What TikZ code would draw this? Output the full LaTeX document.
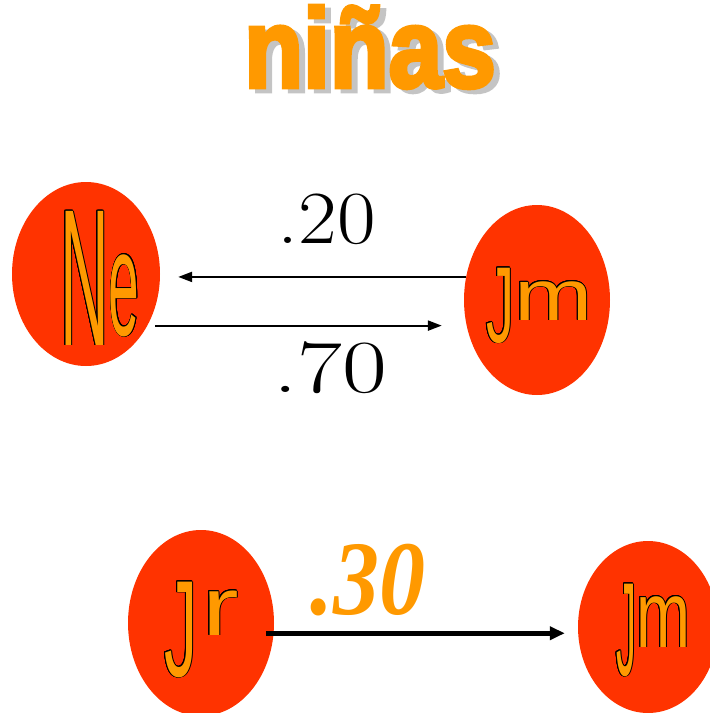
\documentclass[tikz,border=0pt]{standalone}
\usepackage{fontspec}
\usepackage{graphicx}
\usepackage{contour}
\usetikzlibrary{shapes.geometric,arrows.meta,calc}
\newfontfamily\labfont{Liberation Sans}
\newfontfamily\titlefont{Liberation Sans}[BoldFeatures={FakeBold=4}]
\newfontfamily\numfont{Liberation Serif}
\definecolor{ell}{HTML}{FF3300}
\definecolor{org}{HTML}{FF9900}
\definecolor{shadowgray}{HTML}{C4C4C4}
\contourlength{0.8pt}
\newcommand{\wordart}[1]{\contour{black}{#1}}
\begin{document}
\begin{tikzpicture}[x=1pt,y=-1pt,
  state/.style={ellipse, fill=ell, draw=none, inner sep=0pt},
  wlab/.style={anchor=base west, inner sep=0pt, text=org, font=\labfont\fontsize{40}{40}\selectfont},
  arr/.style={line width=2.2pt, -{Triangle[length=14pt,width=10pt]}},
  thickarr/.style={line width=5pt, -{Triangle[length=15pt,width=13pt]}},
  num/.style={anchor=base, inner sep=0pt, font=\fontsize{75}{75}\selectfont},
  ttl/.style={anchor=base, inner sep=0pt, font=\titlefont\bfseries\fontsize{112}{112}\selectfont}]
\useasboundingbox (0,0) rectangle (710,713);
% title
\node[ttl, text=shadowgray] (titleshadow) at (376,91) {\scalebox{0.86}[1]{niñas}};
\node[ttl, text=org] (title) at (370,87) {\scalebox{0.86}[1]{niñas}};
% states
\node[state, minimum width=148, minimum height=184] (ne) at (86,274) {};
\node[state, minimum width=146, minimum height=190] (jm1) at (537,300) {};
\node[state, minimum width=146, minimum height=186] (jr) at (201,623) {};
\node[state, minimum width=140, minimum height=172] (jm2) at (648,627) {};
% labels
\node[wlab, font=\labfont\fontsize{50}{50}\selectfont] (nelab) at (60,345)
  {\wordart{\scalebox{1.35}[3.9]{N}\raisebox{10pt}{\scalebox{1.1}[3.0]{e}}}};
\node[wlab] (jm1lab) at (486,320)
  {\wordart{\raisebox{-22pt}{\scalebox{1.4}[2.7]{J}}\scalebox{2.35}[1.8]{m}}};
\node[wlab] (jrlab) at (164,635)
  {\wordart{\raisebox{-41pt}{\scalebox{1.65}[3.43]{J}}\hspace{5pt}\scalebox{2.75}[2.07]{r}}};
\node[wlab] (jm2lab) at (616,647)
  {\wordart{\raisebox{-28pt}{\scalebox{1.0}[3.32]{J}}\scalebox{1.62}[2.36]{m}}};
% arrows
\draw[arr, shorten >=18pt] (jm1.162) -- (jm1.162 -| ne.east);
\draw[arr, shorten <=8pt, shorten >=22pt] (ne.-40) -- (ne.-40 -| jm1.west);
\draw[thickarr, shorten <=-8pt, shorten >=13pt] (jr.-8) -- (jr.-8 -| jm2.west);
% numbers
\node[num] (p20) at (327,243) {\scalebox{1.12}[1]{.20}};
\node[num] (p70) at (330,392) {\scalebox{1.3}[1]{.70}};
\node[num, text=org, font=\numfont\bfseries\itshape\fontsize{92}{92}\selectfont] (p30) at (368,614) {\scalebox{1}[1.15]{.30}};
\end{tikzpicture}
\end{document}
